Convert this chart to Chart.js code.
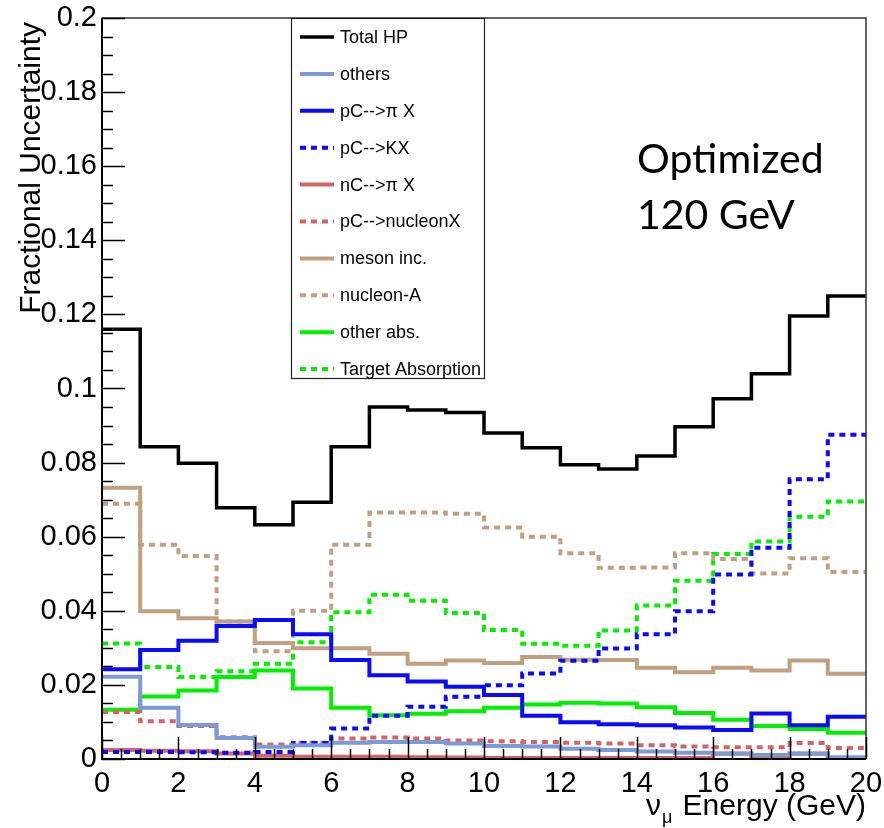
<!DOCTYPE html>
<html>
<head>
<meta charset="utf-8">
<script src="https://cdn.jsdelivr.net/npm/chart.js@4.4.0/dist/chart.umd.min.js"></script>
<style>
  html, body { margin: 0; padding: 0; background: #fff; }
</style>
</head>
<body>
<canvas id="hpChart" width="884" height="828"></canvas>
<script>
// Hadron production fractional uncertainty vs nu_mu energy (1 GeV bins, 0-20 GeV)
const binLow = [0, 1, 2, 3, 4, 5, 6, 7, 8, 9, 10, 11, 12, 13, 14, 15, 16, 17, 18, 19];
const binWidth = 1;

const totalHP   = [0.1160, 0.0843, 0.0798, 0.0678, 0.0632, 0.0693, 0.0843, 0.0950, 0.0942, 0.0935, 0.0880, 0.0840, 0.0794, 0.0783, 0.0818, 0.0897, 0.0972, 0.1040, 0.1196, 0.1250];
const others    = [0.0222, 0.0138, 0.0092, 0.0057, 0.0033, 0.0037, 0.0044, 0.0046, 0.0046, 0.0042, 0.0035, 0.0034, 0.0028, 0.0024, 0.0020, 0.0017, 0.0014, 0.0011, 0.0014, 0.0005];
const pCpi      = [0.0242, 0.0294, 0.0319, 0.0359, 0.0375, 0.0337, 0.0267, 0.0226, 0.0209, 0.0195, 0.0173, 0.0117, 0.0099, 0.0094, 0.0091, 0.0085, 0.0078, 0.0123, 0.0091, 0.0114];
const pCK       = [0.0019, 0.0019, 0.0018, 0.0017, 0.0019, 0.0043, 0.0082, 0.0117, 0.0141, 0.0168, 0.0199, 0.0231, 0.0265, 0.0298, 0.0337, 0.0399, 0.0498, 0.0570, 0.0755, 0.0875];
const nCpi      = [0.0024, 0.0022, 0.0021, 0.0015, 0.0009, 0.0006, 0.0006, 0.0006, 0.0005, 0.0004, 0.0003, 0.0003, 0.0003, 0.0003, 0.0003, 0.0003, 0.0015, 0.0003, 0.0015, 0.0003];
const pCnucleon = [0.0127, 0.0102, 0.0089, 0.0059, 0.0039, 0.0044, 0.0055, 0.0058, 0.0055, 0.0050, 0.0048, 0.0046, 0.0044, 0.0042, 0.0037, 0.0034, 0.0032, 0.0032, 0.0043, 0.0030];
const mesonInc  = [0.0732, 0.0399, 0.0380, 0.0371, 0.0313, 0.0299, 0.0299, 0.0284, 0.0257, 0.0266, 0.0259, 0.0275, 0.0268, 0.0267, 0.0246, 0.0234, 0.0246, 0.0239, 0.0266, 0.0230];
const nucleonA  = [0.0689, 0.0578, 0.0548, 0.0371, 0.0291, 0.0400, 0.0578, 0.0665, 0.0665, 0.0662, 0.0625, 0.0600, 0.0555, 0.0516, 0.0517, 0.0555, 0.0540, 0.0501, 0.0542, 0.0505];
const otherAbs  = [0.0133, 0.0169, 0.0185, 0.0221, 0.0239, 0.0190, 0.0138, 0.0118, 0.0122, 0.0129, 0.0138, 0.0147, 0.0152, 0.0150, 0.0140, 0.0124, 0.0106, 0.0089, 0.0081, 0.0071];
const targetAbs = [0.0312, 0.0248, 0.0221, 0.0237, 0.0257, 0.0315, 0.0396, 0.0443, 0.0427, 0.0394, 0.0348, 0.0311, 0.0306, 0.0347, 0.0414, 0.0481, 0.0553, 0.0587, 0.0654, 0.0695];

const xTickValues = [0, 2, 4, 6, 8, 10, 12, 14, 16, 18, 20];
const yTickValues = [0, 0.02, 0.04, 0.06, 0.08, 0.1, 0.12, 0.14, 0.16, 0.18, 0.2];
const yTickLabels = ['0', '0.02', '0.04', '0.06', '0.08', '0.1', '0.12', '0.14', '0.16', '0.18', '0.2'];

const FONT = 'Liberation Sans, Arial, sans-serif';

// histogram as a stepped line: one point per bin low edge + closing point at the last upper edge
function histPoints(values) {
  const pts = binLow.map((x, i) => ({ x: x, y: values[i] }));
  pts.push({ x: binLow[binLow.length - 1] + binWidth, y: values[values.length - 1] });
  return pts;
}

function hist(label, values, color, dashed, width) {
  return {
    label: label,
    data: histPoints(values),
    borderColor: color,
    borderWidth: width || 4,
    borderDash: dashed ? [6, 5] : [],
    stepped: true,
    pointRadius: 0,
    fill: false,
    tension: 0
  };
}

const colors = {
  black: '#000000',
  lightBlue: '#7c9bd6',
  blue: '#0a0aff',
  red: '#d46464',
  tan: '#c0a080',
  green: '#00f000'
};

const datasets = [
  hist('Total HP', totalHP, colors.black, false, 3.5),
  hist('others', others, colors.lightBlue, false),
  hist('pC-->\u03c0 X', pCpi, colors.blue, false),
  hist('pC-->KX', pCK, colors.blue, true),
  hist('nC-->\u03c0 X', nCpi, colors.red, false),
  hist('pC-->nucleonX', pCnucleon, colors.red, true),
  hist('meson inc.', mesonInc, colors.tan, false),
  hist('nucleon-A', nucleonA, colors.tan, true),
  hist('other abs.', otherAbs, colors.green, false),
  hist('Target Absorption', targetAbs, colors.green, true)
];

// ROOT-like frame, inward ticks, legend box, axis titles and annotation
const rootStyle = {
  id: 'rootStyle',
  afterDraw(chart) {
    const ctx = chart.ctx;
    const a = chart.chartArea;
    const xs = chart.scales.x;
    const ys = chart.scales.y;
    ctx.save();

    // frame
    ctx.setLineDash([]);
    ctx.strokeStyle = '#333';
    ctx.lineWidth = 1.5;
    ctx.beginPath();
    ctx.moveTo(a.left, a.top);
    ctx.lineTo(a.right, a.top);
    ctx.lineTo(a.right, a.bottom);
    ctx.stroke();
    ctx.strokeStyle = '#000';
    ctx.lineWidth = 2;
    ctx.beginPath();
    ctx.moveTo(a.left, a.top);
    ctx.lineTo(a.left, a.bottom);
    ctx.lineTo(a.right, a.bottom);
    ctx.stroke();

    // ticks pointing into the frame
    ctx.lineWidth = 1.5;
    ctx.beginPath();
    for (let v = 0; v <= 0.2001; v += 0.005) {
      const y = Math.round(ys.getPixelForValue(v)) + 0.5;
      const major = Math.abs(v / 0.02 - Math.round(v / 0.02)) < 1e-6;
      ctx.moveTo(a.left, y);
      ctx.lineTo(a.left + (major ? 23 : 11), y);
    }
    for (let v = 0; v <= 20.001; v += 0.5) {
      const x = Math.round(xs.getPixelForValue(v)) + 0.5;
      const major = Math.abs(v / 2 - Math.round(v / 2)) < 1e-6;
      ctx.moveTo(x, a.bottom);
      ctx.lineTo(x, a.bottom - (major ? 22 : 10));
    }
    ctx.stroke();

    // legend
    const lx = 291, ly = 18, lw = 193, lh = 360;
    ctx.fillStyle = '#fff';
    ctx.fillRect(lx, ly, lw, lh);
    ctx.strokeStyle = '#222';
    ctx.lineWidth = 1.2;
    ctx.strokeRect(lx + 0.5, ly + 0.5, lw, lh);
    ctx.font = '18px ' + FONT;
    ctx.textAlign = 'left';
    ctx.textBaseline = 'middle';
    chart.data.datasets.forEach((ds, i) => {
      const y = 37 + i * 36.9;
      ctx.strokeStyle = ds.borderColor;
      ctx.lineWidth = ds.borderWidth;
      ctx.setLineDash(ds.borderDash);
      ctx.beginPath();
      ctx.moveTo(300, y);
      ctx.lineTo(334, y);
      ctx.stroke();
      ctx.setLineDash([]);
      ctx.fillStyle = '#000';
      ctx.fillText(ds.label, 340, y + 1);
    });

    // y-axis title
    ctx.fillStyle = '#000';
    ctx.save();
    ctx.translate(40, a.top + 4);
    ctx.rotate(-Math.PI / 2);
    ctx.font = '30px ' + FONT;
    ctx.textAlign = 'right';
    ctx.textBaseline = 'alphabetic';
    ctx.fillText('Fractional Uncertainty', 0, 0);
    ctx.restore();

    // x-axis title: nu_mu Energy (GeV)
    ctx.textBaseline = 'alphabetic';
    ctx.textAlign = 'right';
    ctx.font = '30px ' + FONT;
    const main = ' Energy (GeV)';
    ctx.fillText(main, a.right, 815);
    const mainW = ctx.measureText(main).width;
    ctx.font = '18px ' + FONT;
    const muW = ctx.measureText('\u03bc').width;
    ctx.fillText('\u03bc', a.right - mainW - 2, 823);
    ctx.font = '30px ' + FONT;
    ctx.fillText('\u03bd', a.right - mainW - muW - 3, 815);

    // annotation
    ctx.textAlign = 'left';
    ctx.font = '41px Lato, "Open Sans", sans-serif';
    ctx.fillText('Optimized', 637, 173);
    ctx.fillText('120 GeV', 637, 229);

    ctx.restore();
  }
};

new Chart(document.getElementById('hpChart'), {
  type: 'line',
  data: { datasets: datasets },
  options: {
    responsive: false,
    animation: false,
    layout: { padding: { top: 18, right: 18, left: 0, bottom: 0 } },
    plugins: {
      legend: { display: false },
      tooltip: { enabled: false }
    },
    scales: {
      x: {
        type: 'linear',
        min: 0,
        max: 20,
        afterBuildTicks: (scale) => { scale.ticks = xTickValues.map(v => ({ value: v })); },
        afterFit: (scale) => {
          scale.height = 69;
          scale.paddingLeft = 0;
          scale.paddingRight = 0;
        },
        grid: { display: false, drawTicks: false },
        border: { display: false },
        ticks: {
          color: '#000',
          padding: 8,
          maxRotation: 0,
          autoSkip: false,
          font: { family: FONT, size: 29 },
          callback: (v) => String(v)
        }
      },
      y: {
        type: 'linear',
        min: 0,
        max: 0.2,
        afterBuildTicks: (scale) => { scale.ticks = yTickValues.map(v => ({ value: v })); },
        afterFit: (scale) => {
          scale.width = 102;
          scale.paddingTop = 0;
          scale.paddingBottom = 0;
        },
        grid: { display: false, drawTicks: false },
        border: { display: false },
        ticks: {
          color: '#000',
          padding: 5,
          autoSkip: false,
          font: { family: FONT, size: 29 },
          callback: (v, i) => yTickLabels[i]
        }
      }
    }
  },
  plugins: [rootStyle]
});
</script>
</body>
</html>
